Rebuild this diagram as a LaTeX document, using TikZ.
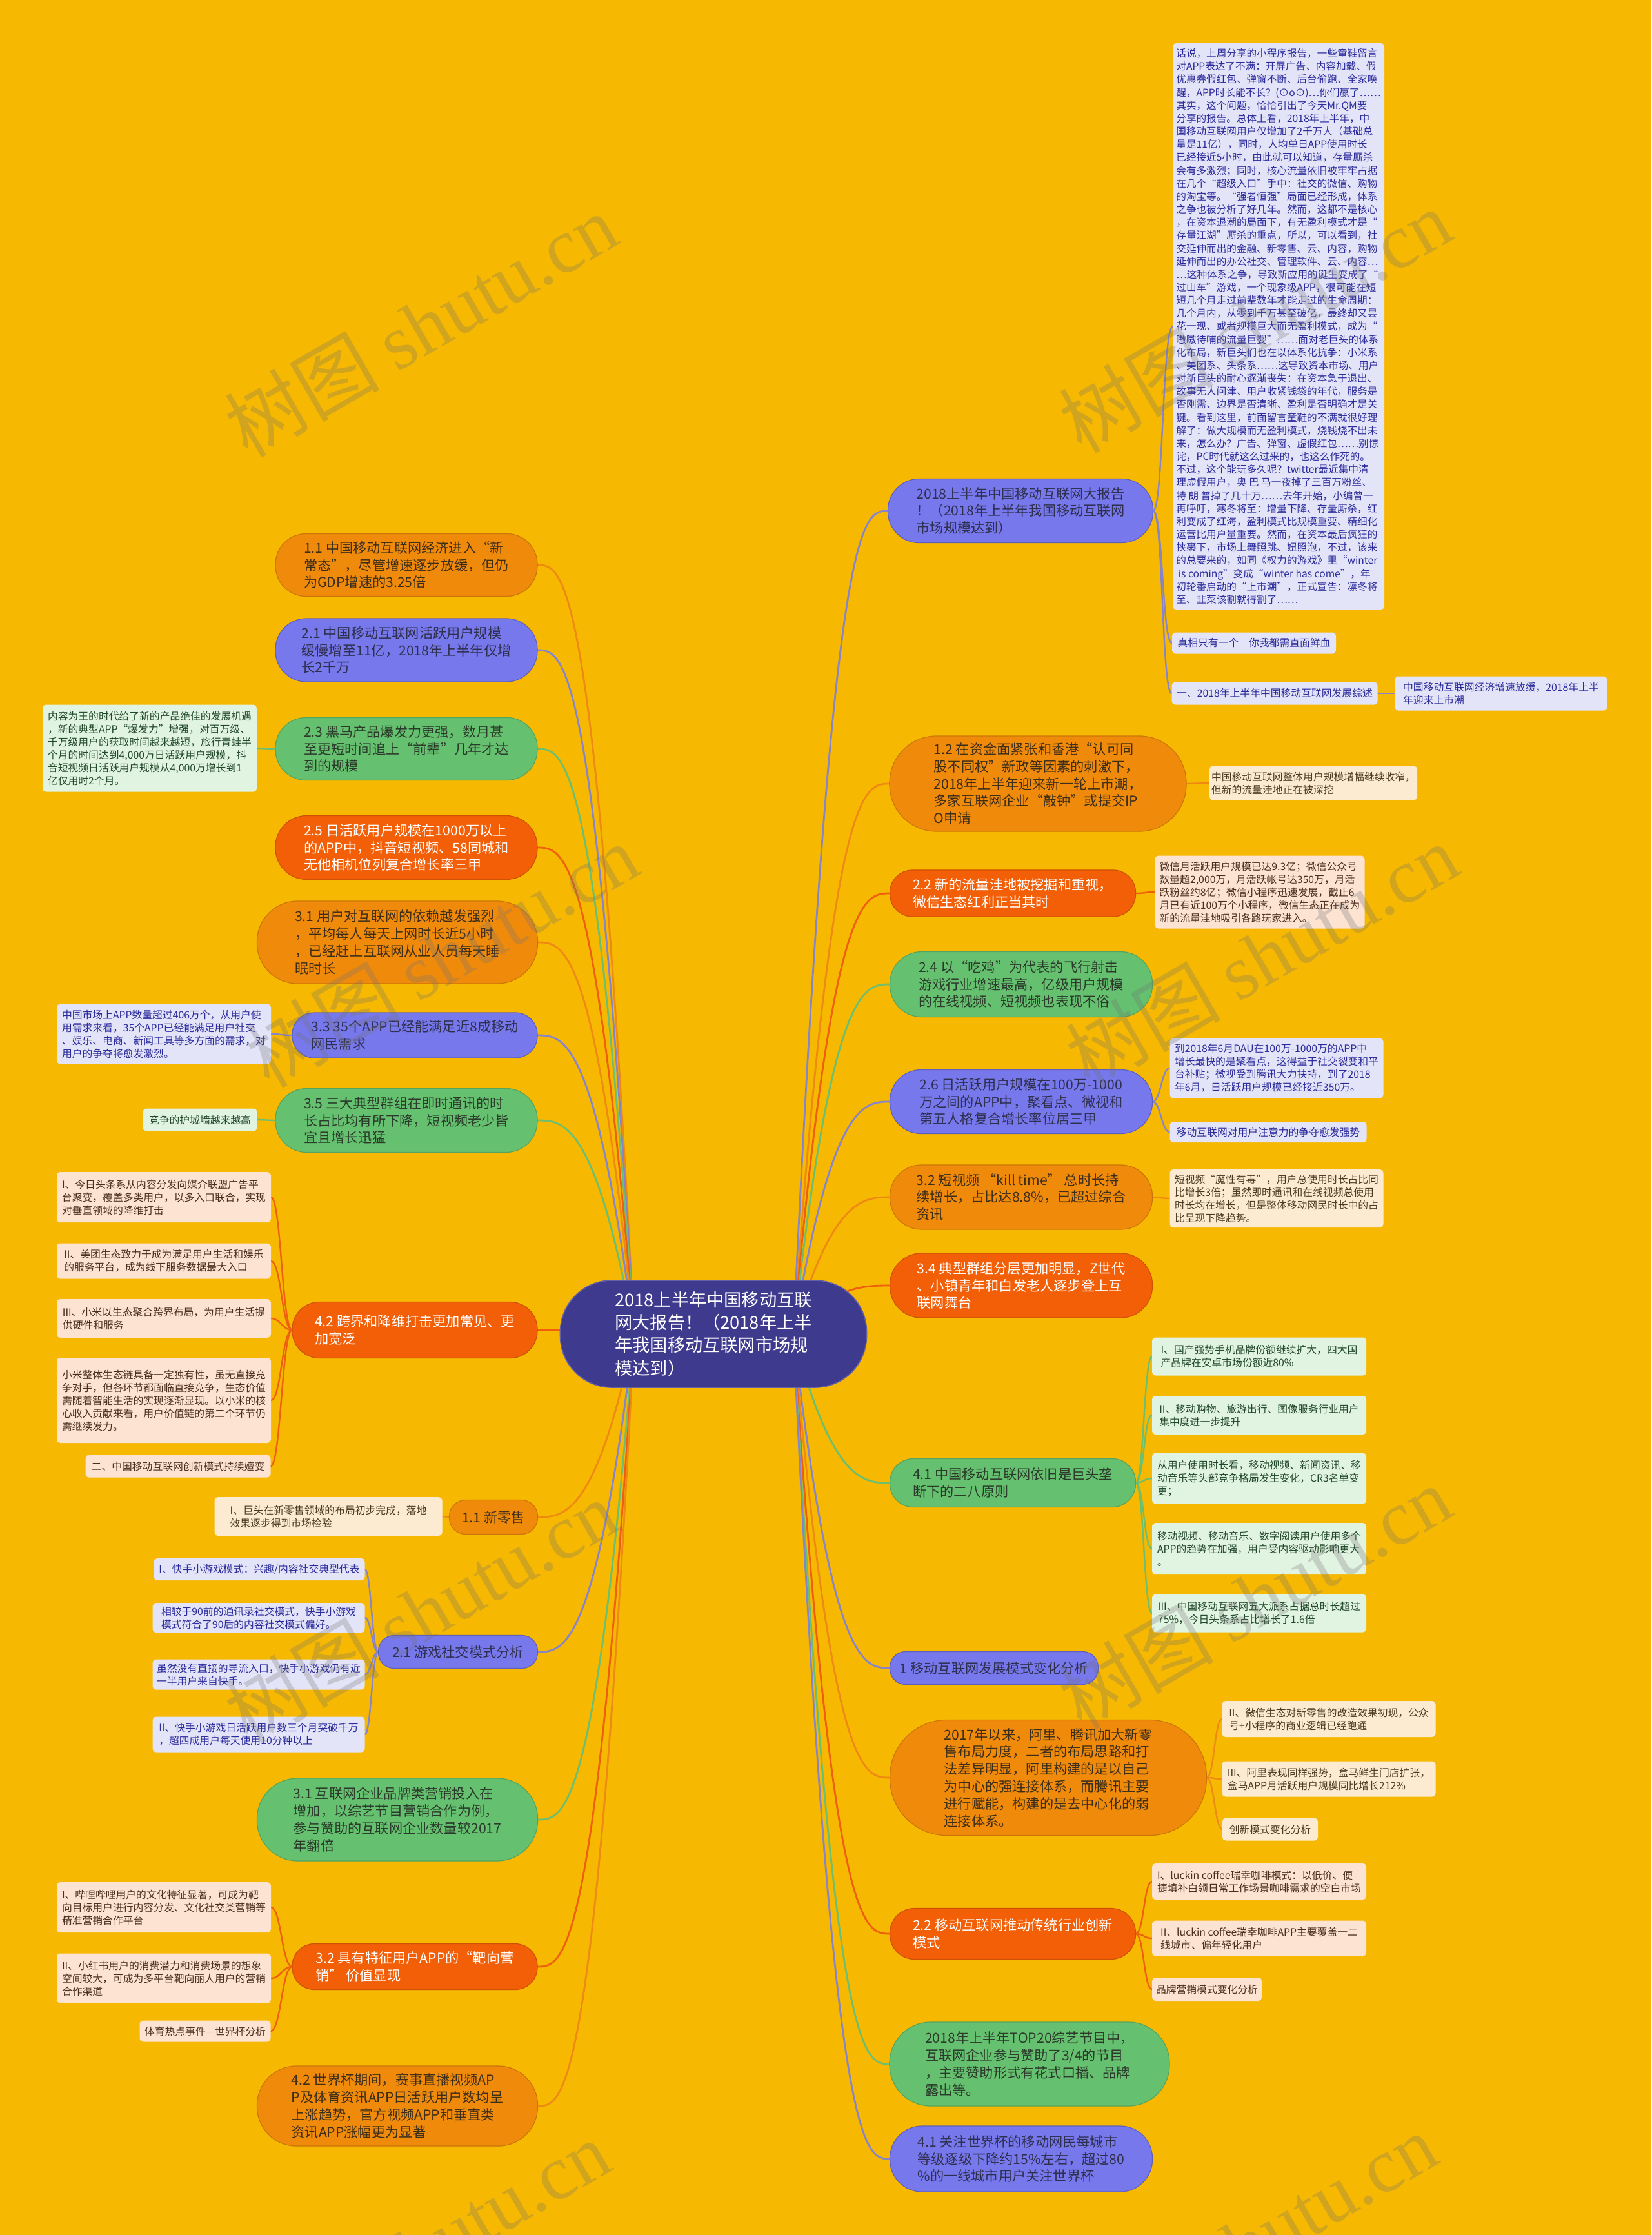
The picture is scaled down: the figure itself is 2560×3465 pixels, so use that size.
\documentclass[tikz,border=0pt]{standalone}
\usepackage{fontspec}
\setmainfont{Noto Sans CJK SC}
\newfontfamily\wmlatin{Liberation Serif}
\usetikzlibrary{calc,backgrounds}
\definecolor{bg}{HTML}{F6B800}
\definecolor{cV}{HTML}{7678EC}
\definecolor{cO}{HTML}{F08A0B}
\definecolor{cD}{HTML}{F25F07}
\definecolor{cG}{HTML}{65C16F}
\definecolor{cC}{HTML}{3E3A8D}
\definecolor{lV}{HTML}{8785C8}
\definecolor{lO}{HTML}{EE8A14}
\definecolor{lD}{HTML}{EE5F10}
\definecolor{lG}{HTML}{6DBF6F}
\definecolor{fV}{HTML}{E4E4F8}
\definecolor{fO}{HTML}{FDEBD1}
\definecolor{fD}{HTML}{FDE3D2}
\definecolor{fG}{HTML}{E1F3E1}
\definecolor{tV}{HTML}{2B2B9C}
\definecolor{tO}{HTML}{4A3A22}
\definecolor{tD}{HTML}{4A2E1E}
\definecolor{tG}{HTML}{22482A}
\definecolor{tpV}{HTML}{2F2F4F}
\definecolor{tpO}{HTML}{3D2E1A}
\definecolor{tpG}{HTML}{2B3A2B}
\tikzset{
  every node/.style={inner sep=0pt, outer sep=0pt},
  pill/.style n args={2}{minimum width=#1*0.25pt, minimum height=#2*0.25pt,
    rounded corners=#2*0.125pt-0.3pt, align=left, line width=0.3pt,
    font=\fontsize{5.3pt}{6.7pt}\selectfont},
  pV/.style={fill=cV, draw=cV!80!black, text=tpV},
  pO/.style={fill=cO, draw=cO!85!black, text=tpO},
  pD/.style={fill=cD, draw=cD!85!black, text=white},
  pG/.style={fill=cG, draw=cG!85!black, text=tpG},
  cbox/.style n args={2}{minimum width=#1*0.25pt, minimum height=#2*0.25pt,
    rounded corners=1.3pt, align=left,
    font=\fontsize{3.95pt}{5.0pt}\selectfont},
  bV/.style={fill=fV, text=tV},
  bO/.style={fill=fO, text=tO},
  bD/.style={fill=fD, text=tD},
  bG/.style={fill=fG, text=tG},
  conn/.style={line width=0.6pt, line cap=round},
  conn1/.style={line width=0.7pt, line cap=round},
  wm/.style={rotate=30, text=black!55, opacity=0.28, font=\fontsize{30pt}{30pt}\selectfont},
}
\newcommand\lvR[2]{\draw[conn1,#1] (sR) .. controls ($(sR |- #2.west)+(60,0)$) and ($(#2.west)+(-40,0)$) .. (#2.west);}
\newcommand\lvL[2]{\draw[conn1,#1] (sL) .. controls ($(sL |- #2.east)+(-60,0)$) and ($(#2.east)+(40,0)$) .. (#2.east);}
\newcommand\mmR[4]{\draw[conn,#1] (#2.east) .. controls +(#4,0) and +(-#4,0) .. (#3.west);}
\newcommand\mmL[4]{\draw[conn,#1] (#2.west) .. controls +(-#4,0) and +(#4,0) .. (#3.east);}
\begin{document}
\begin{tikzpicture}[x=0.25pt,y=-0.25pt]
\useasboundingbox (0,0) rectangle (2560,3465);
\clip (0,0) rectangle (2560,3465);

% ---------- centre ----------
\node[fill=cC, draw=cC!80!white, line width=0.4pt, minimum width=475*0.25pt, minimum height=166*0.25pt,
  rounded corners=20pt, align=left, text=white, font=\fontsize{6.8pt}{8.85pt}\selectfont]
  (C) at (1106,2068) {2018上半年中国移动互联\\网大报告！（2018年上半\\年我国移动互联网市场规\\模达到）};
\coordinate (sR) at (1230,2068);
\coordinate (sL) at (983,2068);

% ---------- right side ----------
\node[pill={411}{99}, pV] (R1) at (1582,792) {2018上半年中国移动互联网大报告\\！（2018年上半年我国移动互联网\\市场规模达到）};
\node[cbox={328}{878}, bV, font=\fontsize{3.9pt}{5.04pt}\selectfont] (R1a) at (1982,506) {话说，上周分享的小程序报告，一些童鞋留言\\
对APP表达了不满：开屏广告、内容加载、假\\
优惠券假红包、弹窗不断、后台偷跑、全家唤\\
醒，APP时长能不长？(⊙o⊙)…你们赢了……\\
其实，这个问题，恰恰引出了今天Mr.QM要\\
分享的报告。总体上看，2018年上半年，中\\
国移动互联网用户仅增加了2千万人（基础总\\
量是11亿），同时，人均单日APP使用时长\\
已经接近5小时，由此就可以知道，存量厮杀\\
会有多激烈；同时，核心流量依旧被牢牢占据\\
在几个“超级入口”手中：社交的微信、购物\\
的淘宝等。“强者恒强”局面已经形成，体系\\
之争也被分析了好几年。然而，这都不是核心\\
，在资本退潮的局面下，有无盈利模式才是“\\
存量江湖”厮杀的重点，所以，可以看到，社\\
交延伸而出的金融、新零售、云、内容，购物\\
延伸而出的办公社交、管理软件、云、内容…\\
…这种体系之争，导致新应用的诞生变成了“\\
过山车”游戏，一个现象级APP，很可能在短\\
短几个月走过前辈数年才能走过的生命周期：\\
几个月内，从零到千万甚至破亿，最终却又昙\\
花一现、或者规模巨大而无盈利模式，成为“\\
嗷嗷待哺的流量巨婴”……面对老巨头的体系\\
化布局，新巨头们也在以体系化抗争：小米系\\
、美团系、头条系……这导致资本市场、用户\\
对新巨头的耐心逐渐丧失：在资本急于退出、\\
故事无人问津、用户收紧钱袋的年代，服务是\\
否刚需、边界是否清晰、盈利是否明确才是关\\
键。看到这里，前面留言童鞋的不满就很好理\\
解了：做大规模而无盈利模式，烧钱烧不出未\\
来，怎么办？广告、弹窗、虚假红包……别惊\\
诧，PC时代就这么过来的，也这么作死的。\\
不过，这个能玩多久呢？twitter最近集中清\\
理虚假用户，奥 巴 马一夜掉了三百万粉丝、\\
特 朗 普掉了几十万……去年开始，小编曾一\\
再呼吁，寒冬将至：增量下降、存量厮杀，红\\
利变成了红海，盈利模式比规模重要、精细化\\
运营比用户量重要。然而，在资本最后疯狂的\\
挟裹下，市场上舞照跳、妞照泡，不过，该来\\
的总要来的，如同《权力的游戏》里“winter\\
\ is coming”变成“winter has come”，年\\
初轮番启动的“上市潮”，正式宣告：凛冬将\\
至、韭菜该割就得割了……};
\node[cbox={254}{33}, bV] (R1b) at (1944,997) {真相只有一个　你我都需直面鲜血};
\node[cbox={319}{35}, bV] (R1c) at (1976,1075) {一、2018年上半年中国移动互联网发展综述};
\node[cbox={329}{53}, bV] (R1d) at (2327,1075) {中国移动互联网经济增速放缓，2018年上半\\年迎来上市潮};

\node[pill={460}{148}, pO] (R2) at (1609,1215) {1.2 在资金面紧张和香港“认可同\\股不同权”新政等因素的刺激下，\\2018年上半年迎来新一轮上市潮，\\多家互联网企业“敲钟”或提交IP\\O申请};
\node[cbox={322}{53}, bO] (R2a) at (2036,1214) {中国移动互联网整体用户规模增幅继续收窄，\\但新的流量洼地正在被深挖};

\node[pill={381}{72}, pD] (R3) at (1570,1385) {2.2 新的流量洼地被挖掘和重视，\\微信生态红利正当其时};
\node[cbox={325}{113}, bD] (R3a) at (1953,1383) {微信月活跃用户规模已达9.3亿；微信公众号\\数量超2,000万，月活跃帐号达350万，月活\\跃粉丝约8亿；微信小程序迅速发展，截止6\\月已有近100万个小程序，微信生态正在成为\\新的流量洼地吸引各路玩家进入。};

\node[pill={407}{101}, pG] (R4) at (1583,1526) {2.4 以“吃鸡”为代表的飞行射击\\游戏行业增速最高，亿级用户规模\\的在线视频、短视频也表现不俗};

\node[pill={407}{99}, pV] (R5) at (1583,1708) {2.6 日活跃用户规模在100万-1000\\万之间的APP中，聚看点、微视和\\第五人格复合增长率位居三甲};
\node[cbox={331}{93}, bV] (R5a) at (1979,1656) {到2018年6月DAU在100万-1000万的APP中\\增长最快的是聚看点，这得益于社交裂变和平\\台补贴；微视受到腾讯大力扶持，到了2018\\年6月，日活跃用户规模已经接近350万。};
\node[cbox={305}{32}, bV] (R5b) at (1966,1755) {移动互联网对用户注意力的争夺愈发强势};

\node[pill={407}{100}, pO] (R6) at (1583,1856) {3.2 短视频 “kill time” 总时长持\\续增长，占比达8.8\%，已超过综合\\资讯};
\node[cbox={331}{90}, bO] (R6a) at (1979,1858) {短视频“魔性有毒”，用户总使用时长占比同\\比增长3倍；虽然即时通讯和在线视频总使用\\时长均在增长，但是整体移动网民时长中的占\\比呈现下降趋势。};

\node[pill={407}{100}, pD] (R7) at (1583,1993) {3.4 典型群组分层更加明显，Z世代\\、小镇青年和白发老人逐步登上互\\联网舞台};

\node[pill={381}{75}, pG] (R8) at (1570,2299) {4.1 中国移动互联网依旧是巨头垄\\断下的二八原则};
\node[cbox={332}{59}, bG] (R8a) at (1952,2103) {I、国产强势手机品牌份额继续扩大，四大国\\产品牌在安卓市场份额近80\%};
\node[cbox={332}{60}, bG] (R8b) at (1952,2194) {II、移动购物、旅游出行、图像服务行业用户\\集中度进一步提升};
\node[cbox={332}{79}, bG] (R8c) at (1952,2292) {从用户使用时长看，移动视频、新闻资讯、移\\动音乐等头部竞争格局发生变化，CR3名单变\\更；};
\node[cbox={332}{80}, bG] (R8d) at (1952,2401) {移动视频、移动音乐、数字阅读用户使用多个\\APP的趋势在加强，用户受内容驱动影响更大\\。};
\node[cbox={332}{59}, bG] (R8e) at (1952,2501) {III、中国移动互联网五大派系占据总时长超过\\75\%，今日头条系占比增长了1.6倍};

\node[pill={323}{51}, pV] (R9) at (1541,2586) {1 移动互联网发展模式变化分析};

\node[pill={491}{179}, pO] (R10) at (1625,2756) {2017年以来，阿里、腾讯加大新零\\售布局力度，二者的布局思路和打\\法差异明显，阿里构建的是以自己\\为中心的强连接体系，而腾讯主要\\进行赋能，构建的是去中心化的弱\\连接体系。};
\node[cbox={331}{56}, bO] (R10a) at (2060,2665) {II、微信生态对新零售的改造效果初现，公众\\号+小程序的商业逻辑已经跑通};
\node[cbox={331}{55}, bO] (R10b) at (2060,2758) {III、阿里表现同样强势，盒马鲜生门店扩张，\\盒马APP月活跃用户规模同比增长212\%};
\node[cbox={148}{35}, bO] (R10c) at (1969,2836) {创新模式变化分析};

\node[pill={381}{79}, pD] (R11) at (1570,2998) {2.2 移动互联网推动传统行业创新\\模式};
\node[cbox={332}{56}, bD] (R11a) at (1952,2917) {I、luckin coffee瑞幸咖啡模式：以低价、便\\捷填补白领日常工作场景咖啡需求的空白市场};
\node[cbox={332}{55}, bD] (R11b) at (1952,3005) {II、luckin coffee瑞幸咖啡APP主要覆盖一二\\线城市、偏年轻化用户};
\node[cbox={170}{36}, bD] (R11c) at (1871,3084) {品牌营销模式变化分析};

\node[pill={434}{130}, pG] (R12) at (1596,3200) {2018年上半年TOP20综艺节目中，\\互联网企业参与赞助了3/4的节目\\，主要赞助形式有花式口播、品牌\\露出等。};
\node[pill={407}{102}, pV] (R13) at (1583,3347) {4.1 关注世界杯的移动网民每城市\\等级逐级下降约15\%左右，超过80\\\%的一线城市用户关注世界杯};

% ---------- left side ----------
\node[pill={406}{97}, pO] (L1) at (630,876) {1.1 中国移动互联网经济进入“新\\常态”，尽管增速逐步放缓，但仍\\为GDP增速的3.25倍};
\node[pill={406}{98}, pV] (L2) at (630,1008) {2.1 中国移动互联网活跃用户规模\\缓慢增至11亿，2018年上半年仅增\\长2千万};
\node[pill={406}{97}, pG] (L3) at (630,1161) {2.3 黑马产品爆发力更强，数月甚\\至更短时间追上“前辈”几年才达\\到的规模};
\node[cbox={332}{135}, bG] (L3a) at (232,1160) {内容为王的时代给了新的产品绝佳的发展机遇\\，新的典型APP“爆发力”增强，对百万级、\\千万级用户的获取时间越来越短，旅行青蛙半\\个月的时间达到4,000万日活跃用户规模，抖\\音短视频日活跃用户规模从4,000万增长到1\\亿仅用时2个月。};
\node[pill={406}{99}, pD] (L4) at (630,1314) {2.5 日活跃用户规模在1000万以上\\的APP中，抖音短视频、58同城和\\无他相机位列复合增长率三甲};
\node[pill={435}{128}, pO] (L5) at (616,1461) {3.1 用户对互联网的依赖越发强烈\\，平均每人每天上网时长近5小时\\，已经赶上互联网从业人员每天睡\\眠时长};
\node[pill={380}{70}, pV] (L6) at (643,1605) {3.3 35个APP已经能满足近8成移动\\网民需求};
\node[cbox={332}{93}, bV] (L6a) at (254,1603) {中国市场上APP数量超过406万个，从用户使\\用需求来看，35个APP已经能满足用户社交\\、娱乐、电商、新闻工具等多方面的需求，对\\用户的争夺将愈发激烈。};
\node[pill={406}{99}, pG] (L7) at (630,1737) {3.5 三大典型群组在即时通讯的时\\长占比均有所下降，短视频老少皆\\宜且增长迅猛};
\node[cbox={177}{35}, bG] (L7a) at (310,1736) {竞争的护城墙越来越高};
\node[pill={380}{87}, pD] (L8) at (643,2062) {4.2 跨界和降维打击更加常见、更\\加宽泛};
\node[cbox={332}{78}, bD] (L8a) at (254,1856) {I、今日头条系从内容分发向媒介联盟广告平\\台聚变，覆盖多类用户，以多入口联合，实现\\对垂直领域的降维打击};
\node[cbox={332}{55}, bD] (L8b) at (254,1955) {II、美团生态致力于成为满足用户生活和娱乐\\的服务平台，成为线下服务数据最大入口};
\node[cbox={332}{60}, bD] (L8c) at (254,2044) {III、小米以生态聚合跨界布局，为用户生活提\\供硬件和服务};
\node[cbox={332}{132}, bD] (L8d) at (254,2171) {小米整体生态链具备一定独有性，虽无直接竞\\争对手，但各环节都面临直接竞争，生态价值\\需随着智能生活的实现逐渐显现。以小米的核\\心收入贡献来看，用户价值链的第二个环节仍\\需继续发力。};
\node[cbox={287}{35}, bD] (L8e) at (276,2273) {二、中国移动互联网创新模式持续嬗变};
\node[pill={137}{53}, pO] (L9) at (765,2352) {1.1 新零售};
\node[cbox={353}{60}, bO] (L9a) at (509,2351) {I、巨头在新零售领域的布局初步完成，落地\\效果逐步得到市场检验};
\node[pill={247}{51}, pV] (L10) at (710,2561) {2.1 游戏社交模式分析};
\node[cbox={327}{34}, bV] (L10a) at (402,2433) {I、快手小游戏模式：兴趣/内容社交典型代表};
\node[cbox={329}{46}, bV] (L10b) at (401,2508) {相较于90前的通讯录社交模式，快手小游戏\\模式符合了90后的内容社交模式偏好。};
\node[cbox={329}{47}, bV] (L10c) at (401,2596) {虽然没有直接的导流入口，快手小游戏仍有近\\一半用户来自快手。};
\node[cbox={329}{55}, bV] (L10d) at (401,2689) {II、快手小游戏日活跃用户数三个月突破千万\\，超四成用户每天使用10分钟以上};
\node[pill={435}{128}, pG] (L11) at (616,2821) {3.1 互联网企业品牌类营销投入在\\增加，以综艺节目营销合作为例，\\参与赞助的互联网企业数量较2017\\年翻倍};
\node[pill={380}{71}, pD] (L12) at (643,3049) {3.2 具有特征用户APP的“靶向营\\销” 价值显现};
\node[cbox={332}{78}, bD] (L12a) at (254,2957) {I、哔哩哔哩用户的文化特征显著，可成为靶\\向目标用户进行内容分发、文化社交类营销等\\精准营销合作平台};
\node[cbox={332}{77}, bD] (L12b) at (254,3067) {II、小红书用户的消费潜力和消费场景的想象\\空间较大，可成为多平台靶向丽人用户的营销\\合作渠道};
\node[cbox={203}{33}, bD] (L12c) at (318,3149) {体育热点事件—世界杯分析};
\node[pill={435}{124}, pO] (L13) at (616,3265) {4.2 世界杯期间，赛事直播视频AP\\P及体育资讯APP日活跃用户数均呈\\上涨趋势，官方视频APP和垂直类\\资讯APP涨幅更为显著};

% ---------- connectors ----------
\begin{pgfonlayer}{background}
\fill[bg] (0,0) rectangle (2560,3465);
\lvR{lV}{R1}\lvR{lO}{R2}\lvR{lD}{R3}\lvR{lG}{R4}\lvR{lV}{R5}\lvR{lO}{R6}\lvR{lD}{R7}
\lvR{lG}{R8}\lvR{lV}{R9}\lvR{lO}{R10}\lvR{lD}{R11}\lvR{lG}{R12}\lvR{lV}{R13}
\lvL{lO}{L1}\lvL{lV}{L2}\lvL{lG}{L3}\lvL{lD}{L4}\lvL{lO}{L5}\lvL{lV}{L6}\lvL{lG}{L7}
\lvL{lD}{L8}\lvL{lO}{L9}\lvL{lV}{L10}\lvL{lG}{L11}\lvL{lD}{L12}\lvL{lO}{L13}
\mmR{lV}{R1}{R1a}{16}\mmR{lV}{R1}{R1b}{16}\mmR{lV}{R1}{R1c}{16}\mmR{lV}{R1c}{R1d}{12}
\mmR{lO}{R2}{R2a}{18}
\mmR{lD}{R3}{R3a}{15}
\mmR{lV}{R5}{R5a}{13}\mmR{lV}{R5}{R5b}{13}
\mmR{lO}{R6}{R6a}{13}
\mmR{lG}{R8}{R8a}{13}\mmR{lG}{R8}{R8b}{13}\mmR{lG}{R8}{R8c}{13}\mmR{lG}{R8}{R8d}{13}\mmR{lG}{R8}{R8e}{13}
\mmR{lO}{R10}{R10a}{12}\mmR{lO}{R10}{R10b}{12}\mmR{lO}{R10}{R10c}{12}
\mmR{lD}{R11}{R11a}{13}\mmR{lD}{R11}{R11b}{13}\mmR{lD}{R11}{R11c}{13}
\mmL{lG}{L3}{L3a}{14}
\mmL{lV}{L6}{L6a}{16}
\mmL{lG}{L7}{L7a}{14}
\mmL{lD}{L8}{L8a}{16}\mmL{lD}{L8}{L8b}{16}\mmL{lD}{L8}{L8c}{16}\mmL{lD}{L8}{L8d}{16}\mmL{lD}{L8}{L8e}{16}
\mmL{lO}{L9}{L9a}{6}
\mmL{lV}{L10}{L10a}{10}\mmL{lV}{L10}{L10b}{10}\mmL{lV}{L10}{L10c}{10}\mmL{lV}{L10}{L10d}{10}
\mmL{lD}{L12}{L12a}{16}\mmL{lD}{L12}{L12b}{16}\mmL{lD}{L12}{L12c}{16}
\end{pgfonlayer}

% ---------- watermarks ----------
\node[wm] (w1) at (652,504) {树图 {\wmlatin shutu.cn}};
\node[wm] (w2) at (1945,497) {树图 {\wmlatin shutu.cn}};
\node[wm] (w3) at (685,1481) {树图 {\wmlatin shutu.cn}};
\node[wm] (w4) at (1956,1481) {树图 {\wmlatin shutu.cn}};
\node[wm] (w5) at (652,2498) {树图 {\wmlatin shutu.cn}};
\node[wm] (w6) at (1945,2476) {树图 {\wmlatin shutu.cn}};
\node[wm] (w7) at (641,3491) {树图 {\wmlatin shutu.cn}};
\node[wm] (w8) at (1923,3480) {树图 {\wmlatin shutu.cn}};
\end{tikzpicture}
\end{document}
